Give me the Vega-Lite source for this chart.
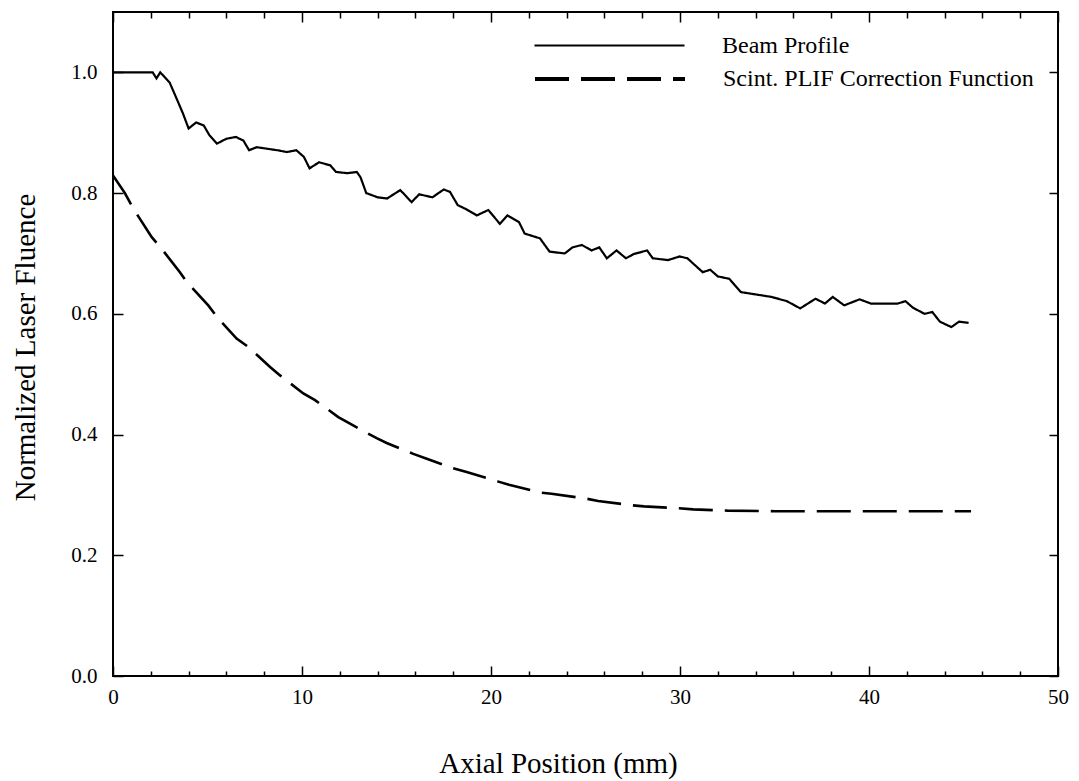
{
  "$schema": "https://vega.github.io/schema/vega-lite/v6.json",
  "width": 945,
  "height": 664,
  "autosize": {"type": "none"},
  "padding": {"left": 113, "top": 12, "right": 21, "bottom": 105},
  "background": "white",
  "config": {
    "view": {"stroke": "black", "strokeWidth": 2},
    "axis": {
      "labelFont": "Liberation Serif",
      "titleFont": "Liberation Serif",
      "labelColor": "black",
      "titleColor": "black",
      "tickColor": "black",
      "domain": false,
      "grid": false,
      "labelFontSize": 21,
      "titleFontSize": 29,
      "titleFontWeight": "normal",
      "tickWidth": 1.5,
      "labelFlush": false
    },
    "legend": {
      "orient": "none",
      "symbolType": "stroke",
      "symbolSize": 22500,
      "symbolStrokeColor": "black",
      "labelFont": "Liberation Serif",
      "labelFontSize": 24,
      "labelColor": "black",
      "labelOffset": 36,
      "padding": 0,
      "labelLimit": 500
    }
  },
  "datasets": {
    "d": [
      {"x": 0, "y": 1.0, "s": "Beam Profile"},
      {"x": 2.1, "y": 1.0, "s": "Beam Profile"},
      {"x": 2.3, "y": 0.99, "s": "Beam Profile"},
      {"x": 2.5, "y": 1.0, "s": "Beam Profile"},
      {"x": 3.0, "y": 0.983, "s": "Beam Profile"},
      {"x": 3.4, "y": 0.954, "s": "Beam Profile"},
      {"x": 3.7, "y": 0.932, "s": "Beam Profile"},
      {"x": 4.0, "y": 0.907, "s": "Beam Profile"},
      {"x": 4.4, "y": 0.917, "s": "Beam Profile"},
      {"x": 4.8, "y": 0.912, "s": "Beam Profile"},
      {"x": 5.1, "y": 0.896, "s": "Beam Profile"},
      {"x": 5.5, "y": 0.882, "s": "Beam Profile"},
      {"x": 6.0, "y": 0.89, "s": "Beam Profile"},
      {"x": 6.5, "y": 0.893, "s": "Beam Profile"},
      {"x": 6.9, "y": 0.887, "s": "Beam Profile"},
      {"x": 7.2, "y": 0.871, "s": "Beam Profile"},
      {"x": 7.6, "y": 0.876, "s": "Beam Profile"},
      {"x": 8.7, "y": 0.871, "s": "Beam Profile"},
      {"x": 9.2, "y": 0.868, "s": "Beam Profile"},
      {"x": 9.7, "y": 0.871, "s": "Beam Profile"},
      {"x": 10.1, "y": 0.86, "s": "Beam Profile"},
      {"x": 10.4, "y": 0.841, "s": "Beam Profile"},
      {"x": 10.9, "y": 0.851, "s": "Beam Profile"},
      {"x": 11.5, "y": 0.846, "s": "Beam Profile"},
      {"x": 11.8, "y": 0.835, "s": "Beam Profile"},
      {"x": 12.4, "y": 0.833, "s": "Beam Profile"},
      {"x": 12.9, "y": 0.835, "s": "Beam Profile"},
      {"x": 13.1, "y": 0.826, "s": "Beam Profile"},
      {"x": 13.4, "y": 0.8, "s": "Beam Profile"},
      {"x": 14.0, "y": 0.793, "s": "Beam Profile"},
      {"x": 14.5, "y": 0.791, "s": "Beam Profile"},
      {"x": 15.2, "y": 0.805, "s": "Beam Profile"},
      {"x": 15.8, "y": 0.785, "s": "Beam Profile"},
      {"x": 16.2, "y": 0.798, "s": "Beam Profile"},
      {"x": 16.9, "y": 0.793, "s": "Beam Profile"},
      {"x": 17.5, "y": 0.806, "s": "Beam Profile"},
      {"x": 17.83, "y": 0.802, "s": "Beam Profile"},
      {"x": 18.24, "y": 0.78, "s": "Beam Profile"},
      {"x": 18.64, "y": 0.774, "s": "Beam Profile"},
      {"x": 19.25, "y": 0.763, "s": "Beam Profile"},
      {"x": 19.86, "y": 0.772, "s": "Beam Profile"},
      {"x": 20.47, "y": 0.749, "s": "Beam Profile"},
      {"x": 20.87, "y": 0.763, "s": "Beam Profile"},
      {"x": 21.48, "y": 0.752, "s": "Beam Profile"},
      {"x": 21.78, "y": 0.733, "s": "Beam Profile"},
      {"x": 22.59, "y": 0.725, "s": "Beam Profile"},
      {"x": 23.1, "y": 0.703, "s": "Beam Profile"},
      {"x": 23.9, "y": 0.7, "s": "Beam Profile"},
      {"x": 24.31, "y": 0.71, "s": "Beam Profile"},
      {"x": 24.81, "y": 0.714, "s": "Beam Profile"},
      {"x": 25.32, "y": 0.705, "s": "Beam Profile"},
      {"x": 25.73, "y": 0.71, "s": "Beam Profile"},
      {"x": 26.13, "y": 0.692, "s": "Beam Profile"},
      {"x": 26.64, "y": 0.705, "s": "Beam Profile"},
      {"x": 27.14, "y": 0.692, "s": "Beam Profile"},
      {"x": 27.55, "y": 0.699, "s": "Beam Profile"},
      {"x": 28.26, "y": 0.705, "s": "Beam Profile"},
      {"x": 28.56, "y": 0.692, "s": "Beam Profile"},
      {"x": 29.37, "y": 0.689, "s": "Beam Profile"},
      {"x": 29.98, "y": 0.695, "s": "Beam Profile"},
      {"x": 30.39, "y": 0.692, "s": "Beam Profile"},
      {"x": 31.2, "y": 0.669, "s": "Beam Profile"},
      {"x": 31.6, "y": 0.673, "s": "Beam Profile"},
      {"x": 32.0, "y": 0.662, "s": "Beam Profile"},
      {"x": 32.61, "y": 0.658, "s": "Beam Profile"},
      {"x": 33.22, "y": 0.636, "s": "Beam Profile"},
      {"x": 34.03, "y": 0.632, "s": "Beam Profile"},
      {"x": 34.84, "y": 0.628, "s": "Beam Profile"},
      {"x": 35.65, "y": 0.621, "s": "Beam Profile"},
      {"x": 36.36, "y": 0.609, "s": "Beam Profile"},
      {"x": 37.17, "y": 0.625, "s": "Beam Profile"},
      {"x": 37.67, "y": 0.617, "s": "Beam Profile"},
      {"x": 38.08, "y": 0.628, "s": "Beam Profile"},
      {"x": 38.69, "y": 0.614, "s": "Beam Profile"},
      {"x": 39.5, "y": 0.624, "s": "Beam Profile"},
      {"x": 40.1, "y": 0.617, "s": "Beam Profile"},
      {"x": 41.52, "y": 0.617, "s": "Beam Profile"},
      {"x": 41.93, "y": 0.621, "s": "Beam Profile"},
      {"x": 42.33, "y": 0.61, "s": "Beam Profile"},
      {"x": 42.94, "y": 0.6, "s": "Beam Profile"},
      {"x": 43.35, "y": 0.603, "s": "Beam Profile"},
      {"x": 43.75, "y": 0.587, "s": "Beam Profile"},
      {"x": 44.36, "y": 0.578, "s": "Beam Profile"},
      {"x": 44.76, "y": 0.587, "s": "Beam Profile"},
      {"x": 45.27, "y": 0.585, "s": "Beam Profile"},
      {"x": 0, "y": 0.829, "s": "Scint. PLIF Correction Function"},
      {"x": 0.63, "y": 0.8, "s": "Scint. PLIF Correction Function"},
      {"x": 1.08, "y": 0.774, "s": "Scint. PLIF Correction Function"},
      {"x": 2.05, "y": 0.727, "s": "Scint. PLIF Correction Function"},
      {"x": 2.49, "y": 0.711, "s": "Scint. PLIF Correction Function"},
      {"x": 3.54, "y": 0.669, "s": "Scint. PLIF Correction Function"},
      {"x": 3.9, "y": 0.653, "s": "Scint. PLIF Correction Function"},
      {"x": 5.04, "y": 0.614, "s": "Scint. PLIF Correction Function"},
      {"x": 5.57, "y": 0.592, "s": "Scint. PLIF Correction Function"},
      {"x": 6.54, "y": 0.559, "s": "Scint. PLIF Correction Function"},
      {"x": 7.16, "y": 0.545, "s": "Scint. PLIF Correction Function"},
      {"x": 8.31, "y": 0.512, "s": "Scint. PLIF Correction Function"},
      {"x": 8.84, "y": 0.498, "s": "Scint. PLIF Correction Function"},
      {"x": 10.07, "y": 0.468, "s": "Scint. PLIF Correction Function"},
      {"x": 10.69, "y": 0.457, "s": "Scint. PLIF Correction Function"},
      {"x": 11.92, "y": 0.429, "s": "Scint. PLIF Correction Function"},
      {"x": 12.54, "y": 0.418, "s": "Scint. PLIF Correction Function"},
      {"x": 13.95, "y": 0.394, "s": "Scint. PLIF Correction Function"},
      {"x": 14.48, "y": 0.386, "s": "Scint. PLIF Correction Function"},
      {"x": 15.89, "y": 0.368, "s": "Scint. PLIF Correction Function"},
      {"x": 16.6, "y": 0.36, "s": "Scint. PLIF Correction Function"},
      {"x": 18.0, "y": 0.344, "s": "Scint. PLIF Correction Function"},
      {"x": 18.71, "y": 0.338, "s": "Scint. PLIF Correction Function"},
      {"x": 20.39, "y": 0.322, "s": "Scint. PLIF Correction Function"},
      {"x": 20.95, "y": 0.317, "s": "Scint. PLIF Correction Function"},
      {"x": 22.56, "y": 0.304, "s": "Scint. PLIF Correction Function"},
      {"x": 23.2, "y": 0.302, "s": "Scint. PLIF Correction Function"},
      {"x": 25.0, "y": 0.294, "s": "Scint. PLIF Correction Function"},
      {"x": 25.67, "y": 0.29, "s": "Scint. PLIF Correction Function"},
      {"x": 27.4, "y": 0.283, "s": "Scint. PLIF Correction Function"},
      {"x": 28.1, "y": 0.281, "s": "Scint. PLIF Correction Function"},
      {"x": 29.9, "y": 0.278, "s": "Scint. PLIF Correction Function"},
      {"x": 30.7, "y": 0.276, "s": "Scint. PLIF Correction Function"},
      {"x": 32.5, "y": 0.274, "s": "Scint. PLIF Correction Function"},
      {"x": 35.0, "y": 0.273, "s": "Scint. PLIF Correction Function"},
      {"x": 40.0, "y": 0.273, "s": "Scint. PLIF Correction Function"},
      {"x": 45.4, "y": 0.273, "s": "Scint. PLIF Correction Function"}
    ]
  },
  "data": {"name": "d"},
  "layer": [
    {
      "mark": {"type": "line", "color": "black"},
      "encoding": {
        "x": {
          "field": "x",
          "type": "quantitative",
          "scale": {"domain": [0, 50], "nice": false, "zero": false},
          "axis": {
            "orient": "bottom",
            "values": [0, 2, 4, 6, 8, 10, 12, 14, 16, 18, 20, 22, 24, 26, 28, 30, 32, 34, 36, 38, 40, 42, 44, 46, 48, 50],
            "tickSize": {"condition": {"test": "datum.value % 10 === 0", "value": -10}, "value": -5},
            "labelExpr": "datum.value % 10 === 0 ? datum.label : ''",
            "labelPadding": 20,
            "labelFlush": false,
            "title": "Axial Position (mm)",
            "titleX": 445,
            "titleY": 87,
            "titleBaseline": "middle"
          }
        },
        "y": {
          "field": "y",
          "type": "quantitative",
          "scale": {"domain": [0, 1.1], "nice": false, "zero": false},
          "axis": {
            "orient": "left",
            "values": [0, 0.2, 0.4, 0.6, 0.8, 1.0],
            "format": ".1f",
            "tickSize": -10,
            "labelPadding": 26,
            "labelFlush": false,
            "title": "Normalized Laser Fluence",
            "titleX": -73,
            "titleY": 335,
            "titleAngle": -90,
            "titleBaseline": "bottom"
          }
        },
        "strokeDash": {
          "field": "s",
          "type": "nominal",
          "scale": {"domain": ["Beam Profile", "Scint. PLIF Correction Function"], "range": [[1, 0], [34, 12]]},
          "legend": {
            "title": null,
            "values": ["Scint. PLIF Correction Function"],
            "legendX": 420,
            "legendY": -10,
            "symbolStrokeWidth": 4,
            "encode": {"symbols": {"update": {"strokeDash": {"value": [34, 24]}, "strokeWidth": {"value": 4}}}}
          }
        },
        "strokeWidth": {
          "field": "s",
          "type": "nominal",
          "scale": {"domain": ["Scint. PLIF Correction Function", "Beam Profile"], "range": [2.6, 2.2]},
          "legend": {
            "title": null,
            "values": ["Beam Profile"],
            "legendX": 420,
            "legendY": -43,
            "encode": {"symbols": {"update": {"strokeWidth": {"value": 1.8}}}}
          }
        }
      }
    },
    {
      "mark": {"type": "point", "opacity": 0},
      "encoding": {
        "x": {
          "field": "x",
          "type": "quantitative",
          "axis": {
            "orient": "top",
            "values": [0, 2, 4, 6, 8, 10, 12, 14, 16, 18, 20, 22, 24, 26, 28, 30, 32, 34, 36, 38, 40, 42, 44, 46, 48, 50],
            "tickSize": {"condition": {"test": "datum.value % 10 === 0", "value": -10}, "value": -6},
            "labels": false,
            "title": null
          }
        },
        "y": {
          "field": "y",
          "type": "quantitative",
          "axis": {
            "orient": "right",
            "values": [0, 0.2, 0.4, 0.6, 0.8, 1.0],
            "tickSize": -9,
            "labels": false,
            "title": null
          }
        }
      }
    }
  ],
  "resolve": {"axis": {"x": "independent", "y": "independent"}}
}
